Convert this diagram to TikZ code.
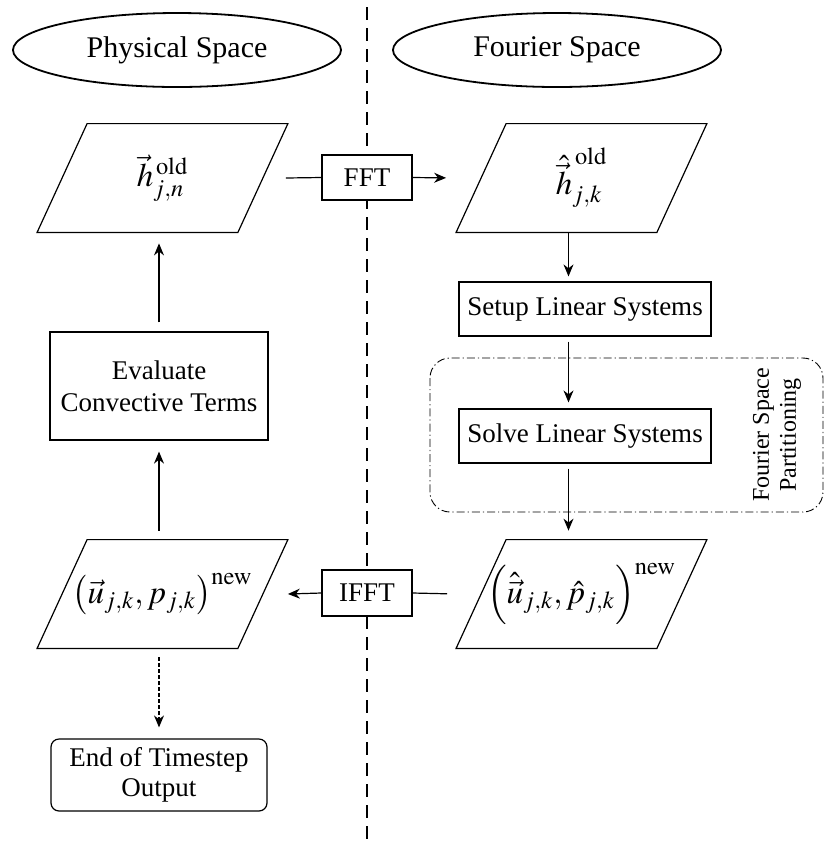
\documentclass[tikz,border=0pt]{standalone}
\usepackage{mathptmx}
\usepackage[no-math]{fontspec}
\setmainfont{Liberation Serif}
\usetikzlibrary{shapes.geometric,arrows.meta,calc}
\begin{document}
\begin{tikzpicture}[x=0.5pt,y=-0.5pt,
  box/.style={draw,fill=white,line width=0.6pt,inner sep=0pt,align=center,font=\fontsize{13.5}{16}\selectfont},
  hdr/.style={draw,ellipse,line width=0.9pt,inner sep=0pt,minimum width=164pt,minimum height=37pt,font=\fontsize{15}{18}\selectfont},
  para/.style={inner sep=0pt,minimum width=125pt,minimum height=54pt,font=\fontsize{16.5}{19}\selectfont},
  paraline/.style={line width=0.6pt},
  flow/.style={line width=0.6pt,-{Stealth[length=6pt,width=5pt]}},
  plain/.style={line width=0.6pt},
  divider/.style={line width=1pt,dash pattern=on 6.5pt off 4pt},
  partition/.style={line width=0.45pt,rounded corners=10pt,dash pattern=on 4pt off 1.5pt on 0.6pt off 1.5pt},
  dotflow/.style={line width=0.6pt,dash pattern=on 2pt off 1pt,-{Stealth[length=6pt,width=5pt]}}
]
\useasboundingbox (0,0) rectangle (825,843);

% divider
\coordinate (dtop) at (367,7);
\coordinate (dbot) at (367,843);
\draw[divider] (dtop) -- (dbot);

% headers
\node[hdr] (phys) at (177,50) {Physical Space};
\node[hdr] (four) at (557,50) {Fourier Space};

% partition region
\coordinate (partNW) at (430,358);
\coordinate (partSE) at (823,512);
\draw[partition] (partNW) rectangle (partSE);
\node[rotate=90,align=center,inner sep=0pt,font=\fontsize{12}{13.5}\selectfont] (partlbl) at (777,435) {Fourier Space\\Partitioning};

% parallelogram data nodes
\node[para] (hold) at (162.5,178) {$\vec{h}_{j,n}^{\,\mathrm{old}}$};
\node[para] (hhat) at (581.5,178) {$\hat{\vec{h}}_{j,k}^{\,\mathrm{old}}$};
\node[para] (uhat) at (581.5,594) {$\left(\hat{\vec{u}}_{j,k},\hat{p}_{j,k}\right)^{\mathrm{new}}$};
\node[para] (unew) at (162.5,594) {$\left(\vec{u}_{j,k},p_{j,k}\right)^{\mathrm{new}}$};
\foreach \n in {hold,hhat,uhat,unew}
  \draw[paraline] ([xshift=25pt]\n.north west) -- (\n.north east) -- ([xshift=-25pt]\n.south east) -- (\n.south west) -- cycle;

% process boxes
\node[box,minimum width=45pt,minimum height=22.5pt] (fft) at (367,177.5) {FFT};
\node[box,minimum width=45pt,minimum height=23pt] (ifft) at (367,593) {IFFT};
\node[box,minimum width=126pt,minimum height=27pt] (setup) at (585,309) {Setup Linear Systems};
\node[box,minimum width=126pt,minimum height=27pt] (solve) at (585,436) {Solve Linear Systems};
\node[box,minimum width=109pt,minimum height=54pt] (eval) at (159,386) {Evaluate\\Convective Terms};
\node[box,rounded corners=4pt,minimum width=108pt,minimum height=36pt,font=\fontsize{13.5}{15}\selectfont] (endout) at (159,775) {End of Timestep\\Output};

% arrow columns
\coordinate (rc) at (568.5,0);
\coordinate (lc) at (159,0);

% connectors
\draw[plain] ([xshift=-1pt]hold.east) -- (fft.west);
\draw[flow,shorten >=5pt] (fft.east) -- (hhat.west);
\draw[flow,shorten >=2.5pt] (hhat.south -| rc) -- (setup.north -| rc);
\draw[flow,shorten <=2.5pt,shorten >=3pt] (setup.south -| rc) -- (solve.north -| rc);
\draw[flow,shorten <=2.5pt,shorten >=4.5pt] (solve.south -| rc) -- (uhat.north -| rc);
\draw[plain,shorten <=4.5pt] (uhat.west) -- (ifft.east);
\draw[flow] (ifft.west) -- (unew.east);
\draw[flow,shorten <=4.5pt,shorten >=5.5pt] (unew.north -| lc) -- (eval.south);
\draw[flow,shorten <=4.5pt,shorten >=5.5pt] (eval.north) -- (hold.south -| lc);
\draw[dotflow,shorten <=4.5pt,shorten >=5.5pt] (unew.south -| lc) -- (endout.north);
\end{tikzpicture}
\end{document}
